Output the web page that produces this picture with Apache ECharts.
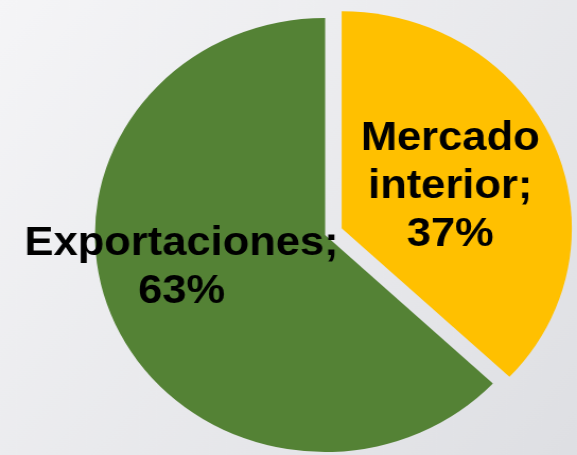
<!DOCTYPE html>
<html>
    <head>
        <meta charset="utf-8"/>
        <script src="https://cdn.jsdelivr.net/npm/echarts@6.0.0/dist/echarts.min.js"></script>
        <style>
            html, body { margin: 0; padding: 0; overflow: hidden; }
            /* 原图被横向拉伸了一点，这里也拉伸 */
            #main { transform: scaleX(1.0607); transform-origin: 0 0; }
        </style>
    </head>
	<body>
        <div id="main" style="width: 544px;height: 455px;"></div>
		<script>
			// 数据
			var categories = ['Mercado interior', 'Exportaciones'];
			var shares = [37, 63];
			var colors = ['#FFC000', '#548235'];

			var myChart = echarts.init(document.getElementById('main'));

			myChart.setOption({
			  backgroundColor: {
				type: 'linear', x: 0, y: 0, x2: 1, y2: 1,
				colorStops: [
				  { offset: 0, color: '#f5f5f7' },
				  { offset: 1, color: '#dedfe3' }
				]
			  },
			  animation: false,
			  series: [
				{
				  type: 'pie',
				  center: [306.5, 235],
				  radius: 217,
				  startAngle: 90,
				  clockwise: true,
				  selectedMode: 'single',
				  selectedOffset: 17,
				  label: {
					show: true,
					position: 'inside',
					color: '#000',
					fontFamily: 'Liberation Sans, Arial, sans-serif',
					fontWeight: 'bold',
					fontSize: 41,
					lineHeight: 48,
					align: 'center',
					formatter: function (p) {
					  return p.name.replace(' ', '\n') + ';\n' + p.value + '%';
					}
				  },
				  labelLine: { show: false },
				  labelLayout: function (p) {
					// 标签微调
					return p.dataIndex === 0 ? { dx: 0, dy: 3 } : { dx: -33, dy: -12 };
				  },
				  emphasis: { disabled: true },
				  data: categories.map(function (c, i) {
					return {
					  name: c,
					  value: shares[i],
					  selected: i === 0,
					  itemStyle: { color: colors[i] }
					};
				  })
				}
			  ]
			});
		</script>
  </body>
</html>
